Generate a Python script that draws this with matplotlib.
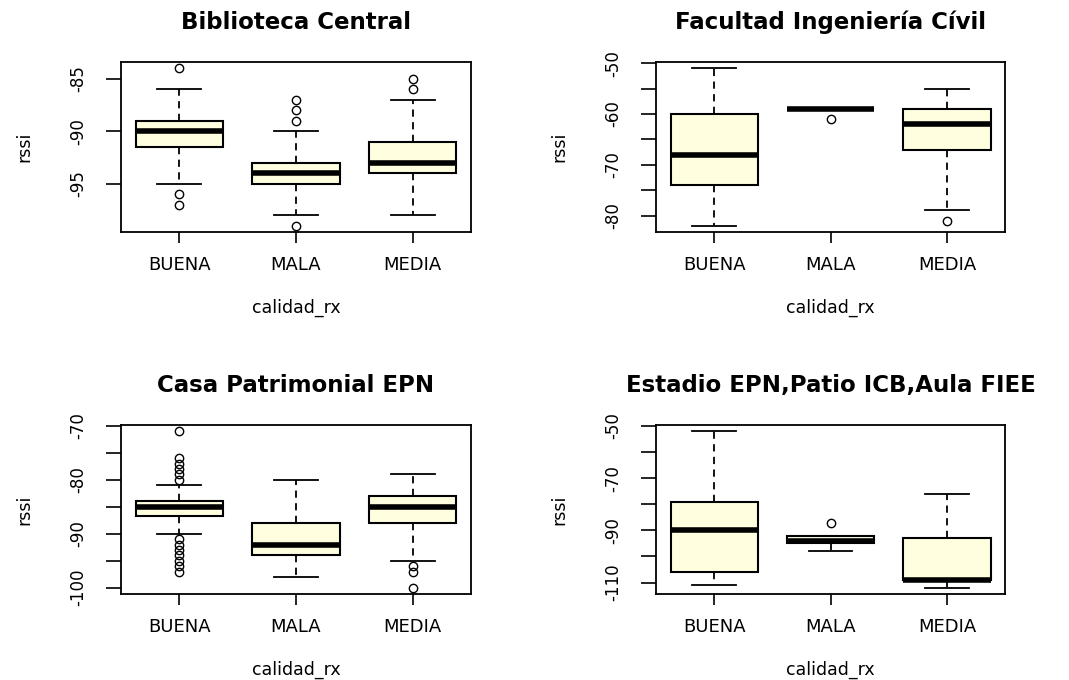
import matplotlib.pyplot as plt

plt.rcParams['font.family'] = ['DejaVu Sans']

categorias = ['BUENA', 'MALA', 'MEDIA']

# Biblioteca Central
bib_lo = [-95, -98, -98]
bib_q1 = [-91.5, -95, -94]
bib_med = [-90, -94, -93]
bib_q3 = [-89, -93, -91]
bib_hi = [-86, -90, -87]
bib_out = [[-84, -96, -97], [-87, -88, -89, -99], [-85, -86]]

# Facultad Ingenieria Civil
fic_lo = [-82, -59, -79]
fic_q1 = [-74, -59, -67]
fic_med = [-68, -59, -62]
fic_q3 = [-60, -59, -59]
fic_hi = [-51, -59, -55]
fic_out = [[], [-61], [-81]]

# Casa Patrimonial EPN
cas_lo = [-90, -98, -95]
cas_q1 = [-86.75, -94, -88]
cas_med = [-85, -92, -85]
cas_q3 = [-84, -88, -83]
cas_hi = [-81, -80, -79]
cas_out = [[-71, -76, -77, -78, -79, -80, -91, -92, -93, -94, -95, -96, -97],
           [], [-96, -97, -100]]

# Estadio EPN, Patio ICB, Aula FIEE
est_lo = [-111, -98, -112]
est_q1 = [-106, -95, -109]
est_med = [-90, -94, -109]
est_q3 = [-79, -92, -93]
est_hi = [-52, -92, -76]
est_out = [[], [-87], []]


def caja(ax, titulo, lo, q1, med, q3, hi, out, ticks, etiquetas):
    stats = []
    for i, c in enumerate(categorias):
        stats.append(dict(label=c, whislo=lo[i], q1=q1[i], med=med[i],
                          q3=q3[i], whishi=hi[i], fliers=out[i]))
    ax.bxp(stats, positions=[1, 2, 3], widths=0.75, capwidths=0.375,
           patch_artist=True,
           boxprops=dict(facecolor='#FFFFE0', edgecolor='black', linewidth=1.5),
           medianprops=dict(color='black', linewidth=4, solid_capstyle='butt'),
           whiskerprops=dict(color='black', linewidth=1.3, linestyle=(0, (4, 3))),
           capprops=dict(color='black', linewidth=1.3),
           flierprops=dict(marker='o', markersize=6, markerfacecolor='none',
                           markeredgecolor='black', markeredgewidth=1))
    todos = lo + hi + [v for f in out for v in f]
    vmin, vmax = min(todos), max(todos)
    d = (vmax - vmin) * 0.04
    ax.set_ylim(vmin - d, vmax + d)
    ax.set_xlim(0.5, 3.5)
    ax.set_yticks(ticks, etiquetas, rotation=90, va='center', fontsize=12)
    ax.set_xticks([1, 2, 3], categorias, fontsize=13)
    ax.tick_params(axis='x', length=8, width=1.2, pad=9)
    ax.tick_params(axis='y', length=11, width=1.2, pad=13)
    for s in ax.spines.values():
        s.set_linewidth(1.3)
    ax.set_title(titulo, fontsize=16.5, fontweight='bold', pad=24)
    ax.set_xlabel('calidad_rx', fontsize=12.5, labelpad=18)
    ax.set_ylabel('rssi', fontsize=12.5, labelpad=26)


fig = plt.figure(figsize=(10.69, 6.8), dpi=100)
ax1 = fig.add_axes([0.1132, 0.6588, 0.3274, 0.25])
ax2 = fig.add_axes([0.6137, 0.6588, 0.3265, 0.25])
ax3 = fig.add_axes([0.1132, 0.1265, 0.3274, 0.2485])
ax4 = fig.add_axes([0.6137, 0.1265, 0.3265, 0.2485])

caja(ax1, 'Biblioteca Central', bib_lo, bib_q1, bib_med, bib_q3, bib_hi, bib_out,
     [-85, -90, -95], ['-85', '-90', '-95'])
caja(ax2, 'Facultad Ingeniería Cívil', fic_lo, fic_q1, fic_med, fic_q3, fic_hi, fic_out,
     [-50, -55, -60, -65, -70, -75, -80], ['-50', '', '-60', '', '-70', '', '-80'])
caja(ax3, 'Casa Patrimonial EPN', cas_lo, cas_q1, cas_med, cas_q3, cas_hi, cas_out,
     [-70, -75, -80, -85, -90, -95, -100], ['-70', '', '-80', '', '-90', '', '-100'])
caja(ax4, 'Estadio EPN,Patio ICB,Aula FIEE', est_lo, est_q1, est_med, est_q3, est_hi, est_out,
     [-50, -60, -70, -80, -90, -100, -110], ['-50', '', '-70', '', '-90', '', '-110'])

fig.savefig('out.png', dpi=100)
